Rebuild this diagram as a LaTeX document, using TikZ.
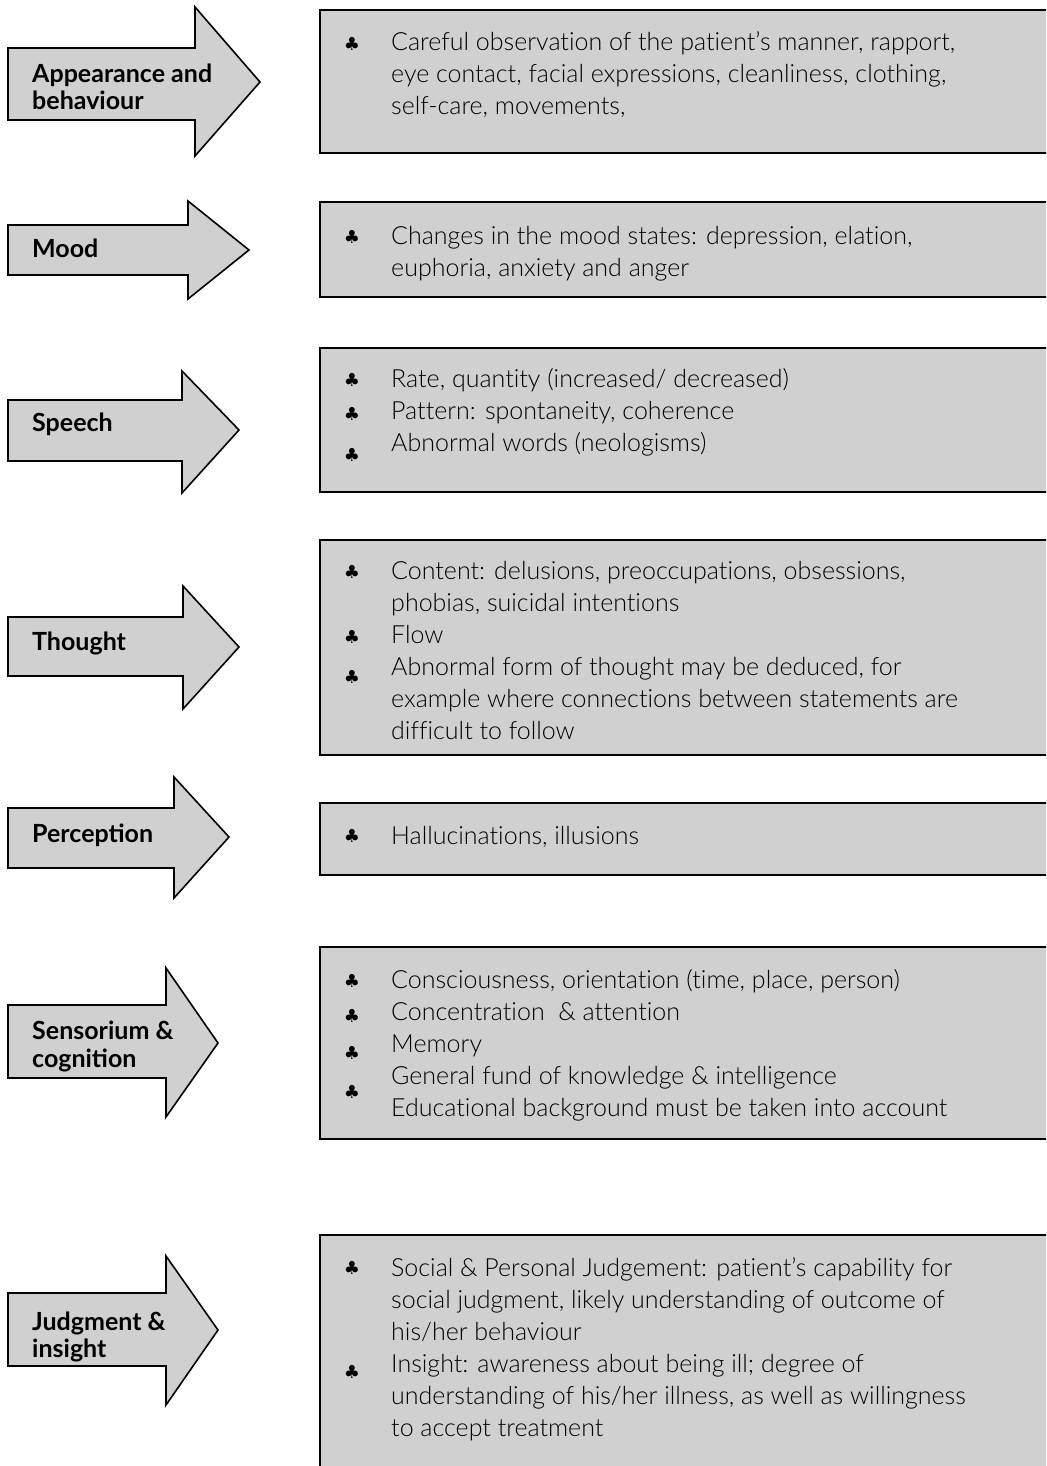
\documentclass[tikz,border=0pt]{standalone}
\usepackage{fontspec}
\IfFontExistsTF{Lato Light}
  {\newfontfamily\bodyfont[Ligatures=NoCommon]{Lato Light}}
  {\newfontfamily\bodyfont[Ligatures=NoCommon]{Lato}}
\newfontfamily\labelfont{Lato}
\newfontfamily\symfont{DejaVu Sans}
\definecolor{boxgray}{RGB}{208,208,208}
\tikzset{
  shapefill/.style={fill=boxgray, draw=black, line width=1.6pt, line join=miter},
  infobox/.style={fill=boxgray, draw=black, line width=2.4pt},
  txt/.style={anchor=base west, inner sep=0pt, font=\bodyfont\fontsize{25}{32}\selectfont},
  lbl/.style={anchor=base west, inner sep=0pt, font=\labelfont\bfseries\fontsize{25}{28}\selectfont},
  clubbullet/.style={anchor=center, inner sep=0pt, font=\symfont\fontsize{18}{18}\selectfont}
}
\newcommand\bigarrow[8]{%
  \draw[shapefill] (8,#1) -- (#3,#1) -- (#3,#4) -- (#6,#7) -- (#3,#5) -- (#3,#2) -- (8,#2) -- cycle;}
\newcommand\txtline[3]{\node[txt] (#1) at (391,#2) {#3};}
\newcommand\clubat[2]{\node[clubbullet] (#1) at (352,#2) {♣};}
\begin{document}
\begin{tikzpicture}[x=1pt,y=-1pt]
\useasboundingbox (0,0) rectangle (1046,1466);
\clip (0,0) rectangle (1046,1466);
% arrows: shaft top, shaft bottom, head base x, head top, head bottom, tip x, tip y
\bigarrow{48}{120}{195}{7}{156}{260}{82}{}
\bigarrow{225}{275}{188}{201}{299}{249}{250}{}
\bigarrow{400}{461}{182}{371}{493}{239}{430}{}
\bigarrow{617}{676}{183}{586}{709}{239}{647}{}
\bigarrow{808}{868}{174}{777}{898}{229}{837}{}
\bigarrow{1005}{1078}{166}{968}{1117}{218}{1043}{}
\bigarrow{1293}{1366}{166}{1256}{1405}{218}{1330}{}
% labels
\node[lbl] (l1a) at (32,83) {Appearance and};
\node[lbl] (l1b) at (32,110) {behaviour};
\node[lbl] (l2) at (32,257) {Mood};
\node[lbl] (l3) at (32,431) {Speech};
\node[lbl] (l4) at (32,650) {Thought};
\node[lbl] (l5) at (32,842) {Perception};
\node[lbl] (l6a) at (32,1039) {Sensorium \&};
\node[lbl] (l6b) at (32,1067) {cognition};
\node[lbl] (l7a) at (32,1330) {Judgment \&};
\node[lbl] (l7b) at (32,1357) {insight};
% boxes
\draw[infobox] (320,10) rectangle (1070,153);
\draw[infobox] (320,202) rectangle (1070,297);
\draw[infobox] (320,348) rectangle (1070,492);
\draw[infobox] (320,540) rectangle (1070,755);
\draw[infobox] (320,803) rectangle (1070,875);
\draw[infobox] (320,947) rectangle (1070,1139);
\draw[infobox] (320,1235) rectangle (1070,1490);
% box 1
\clubat{c11}{44}
\txtline{t11}{51}{Careful observation of the patient’s manner, rapport,}
\txtline{t12}{83}{eye contact, facial expressions, cleanliness, clothing,}
\txtline{t13}{115}{self-care, movements,}
% box 2
\clubat{c21}{237}
\txtline{t21}{244}{Changes in the mood states: depression, elation,}
\txtline{t22}{276}{euphoria, anxiety and anger}
% box 3
\clubat{c31}{380}
\clubat{c32}{414}
\clubat{c33}{455}
\txtline{t31}{387}{Rate, quantity (increased/ decreased)}
\txtline{t32}{419}{Pattern: spontaneity, coherence}
\txtline{t33}{451}{Abnormal words (neologisms)}
% box 4
\clubat{c41}{572}
\clubat{c42}{637}
\clubat{c43}{677}
\txtline{t41}{579}{Content: delusions, preoccupations, obsessions,}
\txtline{t42}{611}{phobias, suicidal intentions}
\txtline{t43}{643}{Flow}
\txtline{t44}{675}{Abnormal form of thought may be deduced, for}
\txtline{t45}{707}{example where connections between statements are}
\txtline{t46}{739}{difficult to follow}
% box 5
\clubat{c51}{836}
\txtline{t51}{844}{Hallucinations, illusions}
% box 6
\clubat{c61}{981}
\clubat{c62}{1016}
\clubat{c63}{1053}
\clubat{c64}{1092}
\txtline{t61}{988}{Consciousness, orientation (time, place, person)}
\txtline{t62}{1020}{Concentration \ \& attention}
\txtline{t63}{1052}{Memory}
\txtline{t64}{1084}{General fund of knowledge \& intelligence}
\txtline{t65}{1116}{Educational background must be taken into account}
% box 7
\clubat{c71}{1268}
\clubat{c72}{1372}
\txtline{t71}{1276}{Social \& Personal Judgement: patient’s capability for}
\txtline{t72}{1308}{social judgment, likely understanding of outcome of}
\txtline{t73}{1340}{his/her behaviour}
\txtline{t74}{1372}{Insight: awareness about being ill; degree of}
\txtline{t75}{1404}{understanding of his/her illness, as well as willingness}
\txtline{t76}{1436}{to accept treatment}
\end{tikzpicture}
\end{document}
